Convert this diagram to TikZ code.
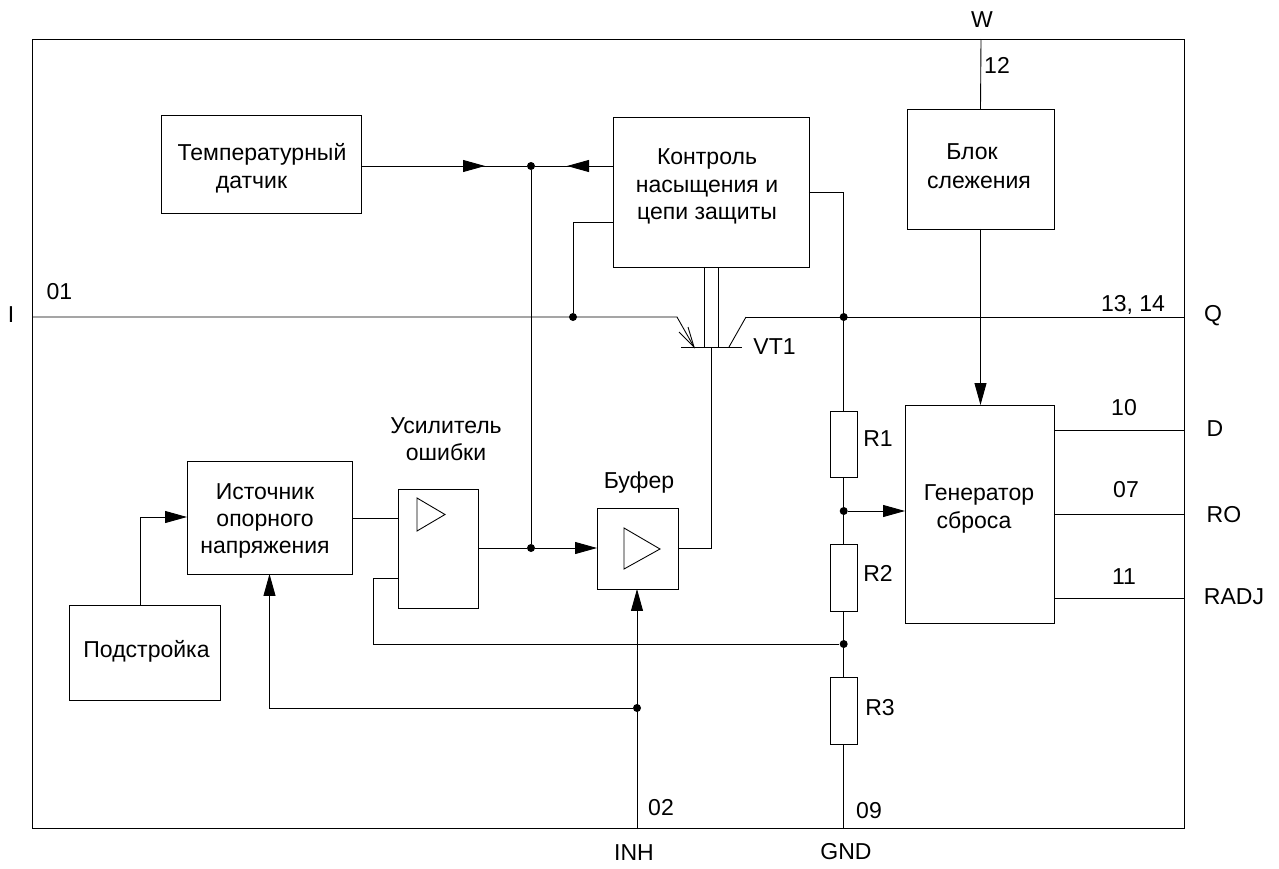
\documentclass[tikz,border=0pt]{standalone}
\usepackage{fontspec}
\setmainfont{Liberation Sans}
\usetikzlibrary{arrows.meta}
\tikzset{
    blockbox/.style={draw, rectangle, inner sep=0pt, outer sep=0pt, align=center},
    resbox/.style={blockbox, minimum width=0.54cm},
    lbl/.style={inner sep=0pt, align=center},
    linelbl/.style={inner sep=0pt, anchor=base},
    dotjoin/.style={circle, fill=black, inner sep=0pt, minimum size=0.16cm},
    arrowwire/.style={-{Triangle[length=0.44cm,width=0.24cm]}}
}
\begin{document}
\begin{tikzpicture}[x=0.02cm,y=-0.02cm,line width=0.5pt,font=\fontsize{13.1}{15.6}\selectfont]
    \useasboundingbox (0,0) rectangle (1279,869);

    % Outer frame
    \node[blockbox, minimum width=23.05cm, minimum height=15.8cm] (frame) at (608.75,434) {};

    % Blocks
    \node[blockbox, minimum width=4cm, minimum height=1.96cm] (tempsensor) at (261,164) {};
    \node[linelbl] (temptop) at (262,160.5) {Температурный};
    \node[linelbl] (tempbottom) at (251.5,188.5) {датчик};
    \node[blockbox, minimum width=3.92cm, minimum height=3cm] (control) at (711,192) {};
    \node[lbl] (controltext) at (707,186.5) {Контроль\\насыщения и\\цепи защиты};
    \node[blockbox, minimum width=2.94cm, minimum height=2.4cm] (tracker) at (980.5,169) {};
    \node[linelbl] (trackertop) at (972,159) {Блок};
    \node[linelbl] (trackerbottom) at (979,188) {слежения};
    \node[blockbox, minimum width=2.98cm, minimum height=4.36cm] (resetgen) at (979.5,514) {};
    \node[linelbl] (gentop) at (979,500.5) {Генератор};
    \node[linelbl] (genbottom) at (974,528) {сброса};
    \node[blockbox, minimum width=3.3cm, minimum height=2.26cm] (refsource) at (269.5,517.5) {};
    \node[lbl] (sourcetext) at (265,521) {Источник\\опорного\\напряжения};
    \node[blockbox, minimum width=1.6cm, minimum height=2.38cm] (erramp) at (438.7,548.7) {};
    \node[blockbox, minimum width=1.62cm, minimum height=1.62cm] (buffer) at (637.5,548.5) {};
    \node[blockbox, minimum width=3.02cm, minimum height=1.9cm] (trim) at (144.5,652.5) {};
    \node[linelbl] (trimtext) at (146.5,657) {Подстройка};

    % Resistors
    \node[resbox, minimum height=1.32cm] (r1) at (843.7,444) {};
    \node[resbox, minimum height=1.34cm] (r2) at (843.7,577.5) {};
    \node[resbox, minimum height=1.34cm] (r3) at (843.7,710.5) {};

    % Amplifier triangles
    \draw (417,498) -- (445,514.5) -- (417,531) -- cycle;
    \draw (624,528) -- (660,549) -- (624,569) -- cycle;

    % Junctions
    \node[dotjoin] (jtop) at (531,166) {};
    \node[dotjoin] (jamp) at (531,548) {};
    \node[dotjoin] (jin) at (573,317) {};
    \node[dotjoin] (jout) at (843.7,317) {};
    \node[dotjoin] (jdiv) at (843.7,511) {};
    \node[dotjoin] (jfb) at (843.7,644) {};
    \node[dotjoin] (jinh) at (637,708) {};

    % Pins
    \coordinate (pinI) at (32.5,317);
    \coordinate (pinQ) at (1185,317);
    \coordinate (pinW) at (981,39);
    \coordinate (pinINH) at (637,829);
    \coordinate (pinGND) at (843.7,829);
    \coordinate (pinD) at (1185,430);
    \coordinate (pinRO) at (1185,514);
    \coordinate (pinRADJ) at (1185,598);

    % Transistor VT1
    \coordinate (vtleft) at (681,347.5);
    \coordinate (vtright) at (742,347.5);
    \coordinate (vtbase) at (711,347.5);
    \coordinate (vte) at (677,317);
    \coordinate (vtemid) at (694,347);
    \coordinate (vtc) at (746,317);
    \coordinate (vtcmid) at (729,347);
    \draw (vtleft) -- (vtright);
    \draw (pinI) -- (vte) -- (vtemid);
    \draw (679,332) -- (vtemid) -- (688,327);
    \draw (vtcmid) -- (vtc);
    \draw (vtc) -- (pinQ);
    \draw (704.5,267) -- (704.5,347.5);
    \draw (718,267) -- (718,347.5);
    \node[lbl, anchor=west] (vtlabel) at (753,347) {VT1};

    % Top signal line
    \draw[arrowwire] (tempsensor.east |- jtop) -- (485,166);
    \draw (480,166) -- (jtop);
    \draw[arrowwire] (control.west |- jtop) -- (567,166);
    \draw (572,166) -- (jtop);
    \draw (jtop) -- (jamp);
    \draw (control.west |- 0,222) -| (jin);

    % Right hand side
    \draw (control.east |- 0,192) -| (r1.north);
    \draw (r1.south) -- (r2.north);
    \draw (r2.south) -- (r3.north);
    \draw (r3.south) -- (pinGND);
    \draw[arrowwire] (jdiv) -- (resetgen.west |- jdiv);
    \draw (tracker.north) -- (pinW);
    \draw[arrowwire] (tracker.south) -- (tracker.south |- resetgen.north);
    \draw (resetgen.east |- pinD) -- (pinD);
    \draw (resetgen.east |- pinRO) -- (pinRO);
    \draw (resetgen.east |- pinRADJ) -- (pinRADJ);

    % Lower left part
    \draw[arrowwire] (trim.north -| 140.5,0) |- (refsource.west |- 0,517);
    \draw (refsource.east |- 0,518) -- (erramp.west |- 0,518);
    \draw (erramp.east |- jamp) -- (jamp);
    \draw[arrowwire] (jamp) -- (buffer.west |- jamp);
    \draw (buffer.east |- jamp) -| (vtbase);
    \draw (jfb) -- (373,644) -- (373,578) -- (erramp.west |- 0,578);
    \draw[arrowwire] (pinINH) -- (buffer.south -| pinINH);
    \draw[arrowwire] (jinh) -| (refsource.south);

    % Pin names
    \node[lbl] (nameI) at (11,315) {I};
    \node[lbl] (nameQ) at (1213,316) {Q};
    \node[lbl] (nameW) at (982,20) {W};
    \node[lbl] (nameINH) at (634,853) {INH};
    \node[lbl] (nameGND) at (846,852) {GND};
    \node[lbl] (nameD) at (1215,429) {D};
    \node[lbl] (nameRO) at (1224,515) {RO};
    \node[lbl] (nameRADJ) at (1234,597) {RADJ};

    % Pin numbers
    \node[lbl] (num01) at (59.5,292) {01};
    \node[lbl] (num12) at (997,65) {12};
    \node[lbl] (num1314) at (1133,305) {13, 14};
    \node[lbl] (num10) at (1124,408) {10};
    \node[lbl] (num07) at (1126,490) {07};
    \node[lbl] (num11) at (1124,577) {11};
    \node[lbl] (num02) at (661,808) {02};
    \node[lbl] (num09) at (869,811) {09};

    % Other labels
    \node[lbl] (namer1) at (878,439) {R1};
    \node[lbl] (namer2) at (878,573) {R2};
    \node[lbl] (namer3) at (880,708) {R3};
    \node[lbl] (nameamp) at (446,439) {Усилитель\\ошибки};
    \node[lbl] (namebuf) at (639,483) {Буфер};
\end{tikzpicture}
\end{document}
